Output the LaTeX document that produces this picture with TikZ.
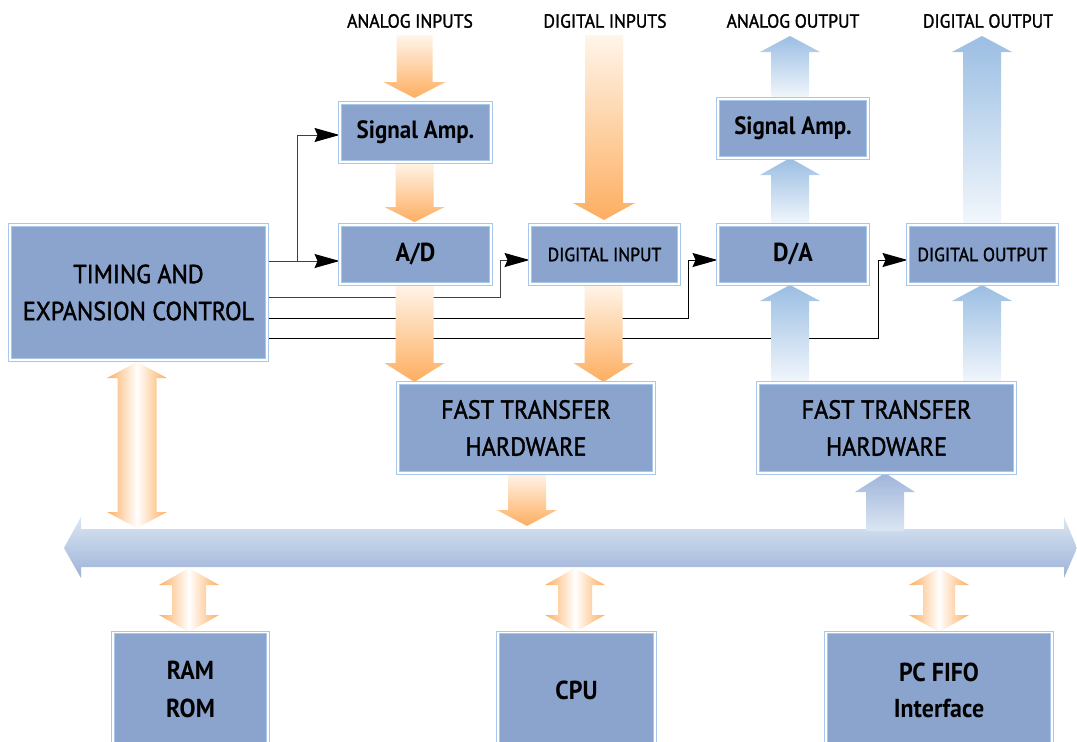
\documentclass[tikz,border=0pt]{standalone}
\usepackage{fontspec}
\setmainfont{PT Sans}[FakeStretch=0.92]
\newfontfamily\medfont{PT Sans}[FakeStretch=0.93, FakeBold=1.5]
\usetikzlibrary{arrows.meta}
\definecolor{boxfill}{RGB}{138,164,206}
\definecolor{boxedge}{RGB}{168,200,235}
\definecolor{orgD}{RGB}{253,174,96}
\definecolor{orgL}{RGB}{255,245,234}
\definecolor{blueA}{RGB}{155,190,227}
\definecolor{blueL}{RGB}{242,247,252}
\definecolor{busT}{RGB}{218,230,242}
\definecolor{busB}{RGB}{157,178,216}
\definecolor{busUp}{RGB}{160,180,218}
\pgfdeclarelayer{bg}
\pgfdeclarelayer{mid}
\pgfsetlayers{bg,mid,main}
% fat single arrow: style, cx, y-start, y-headbase, y-tip, shaft half width, head half width
\newcommand{\fatarrow}[7]{%
  \shade[#1] (#2-#6,#3) -- (#2+#6,#3) -- (#2+#6,#4) -- (#2+#7,#4) -- (#2,#5)
    -- (#2-#7,#4) -- (#2-#6,#4) -- cycle;}
% fat double arrow: style, cx, tip1, base1, base2, tip2, shaft hw, head hw
\newcommand{\fatdouble}[8]{%
  \shade[#1] (#2,#3) -- (#2+#8,#4) -- (#2+#7,#4) -- (#2+#7,#5) -- (#2+#8,#5) -- (#2,#6)
    -- (#2-#8,#5) -- (#2-#7,#5) -- (#2-#7,#4) -- (#2-#8,#4) -- cycle;}
\begin{document}
\begin{tikzpicture}[x=1pt,y=-1pt,
  box/.style={draw=boxedge, double=white, double distance=1.3pt, line width=0.9pt,
    fill=boxfill, inner sep=0pt, align=center, text=black},
  btxt/.style={inner sep=0pt, align=center, text=black},
  ctl/.style={draw=black!75, line width=1pt},
  tipc/.style={-{Stealth[length=25pt,width=14pt,inset=3pt,color=black]}},
  odown/.style={top color=orgL, bottom color=orgD},
  bup/.style={top color=blueA, bottom color=blueL},
  busup/.style={top color=busUp, bottom color=busT},
  obi/.style={left color=orgD, right color=orgD, middle color=white},
  lab/.style={font=\medfont\fontsize{19}{22}\selectfont, inner sep=0pt}]
\begin{pgfonlayer}{bg}
\fill[white] (0,0) rectangle (1077,742);
\end{pgfonlayer}
\useasboundingbox (0,0) rectangle (1077,742);
\clip (0,0) rectangle (1077,742);
% boxes
\node[box, minimum width=257pt, minimum height=135pt, font=\medfont\fontsize{26}{37}\selectfont]
  (tim) at (138.5,292.5) {TIMING AND\\EXPANSION CONTROL};
\node[box, minimum width=151pt, minimum height=59pt, font=\bfseries\fontsize{25}{30}\selectfont]
  (sa1) at (415.5,132.5) {Signal Amp.};
\node[box, minimum width=151pt, minimum height=59pt, font=\bfseries\fontsize{26}{30}\selectfont]
  (ad) at (415.5,254.5) {A/D};
\node[box, minimum width=149pt, minimum height=59pt, font=\medfont\fontsize{19}{22}\selectfont]
  (din) at (604.5,254.5) {DIGITAL INPUT};
\node[box, minimum width=150pt, minimum height=59pt, font=\bfseries\fontsize{26}{30}\selectfont]
  (da) at (793,254.5) {D/A};
\node[box, minimum width=150pt, minimum height=59pt, font=\bfseries\fontsize{25}{30}\selectfont]
  (sa2) at (793,128.5) {Signal Amp.};
\node[box, minimum width=149pt, minimum height=59pt, font=\medfont\fontsize{19}{22}\selectfont]
  (dout) at (982.5,254.5) {DIGITAL OUTPUT};
\node[box, minimum width=256pt, minimum height=90pt, font=\medfont\fontsize{26}{37}\selectfont]
  (ft1) at (526,428) {FAST TRANSFER\\HARDWARE};
\node[box, minimum width=257pt, minimum height=90pt, font=\medfont\fontsize{26}{37}\selectfont]
  (ft2) at (886.5,428) {FAST TRANSFER\\HARDWARE};
\node[box, minimum width=155pt, minimum height=140pt, anchor=north] (ram) at (190.5,632) {};
\node[btxt, font=\bfseries\fontsize{26}{38}\selectfont] (ramt) at (190.5,689) {RAM\\ROM};
\node[box, minimum width=157pt, minimum height=140pt, anchor=north] (cpu) at (576.5,632) {};
\node[btxt, font=\bfseries\fontsize{26}{38}\selectfont] (cput) at (576.5,690) {CPU};
\node[box, minimum width=226pt, minimum height=140pt, anchor=north] (fifo) at (939,632) {};
\node[btxt, font=\bfseries\fontsize{26}{36}\selectfont] (fifot) at (939,690) {PC FIFO\\Interface};
% top labels
\node[lab] (lai) at (410,21) {ANALOG INPUTS};
\node[lab] (ldi) at (605,21) {DIGITAL INPUTS};
\node[lab] (lao) at (793,21) {ANALOG OUTPUT};
\node[lab] (ldo) at (988,21) {DIGITAL OUTPUT};
% control lines
\begin{pgfonlayer}{bg}
\draw[ctl,tipc] (tim.east |- 0,261) -- (ad.west |- 0,261);
\draw[ctl,tipc] (297,261) |- (sa1.west |- 0,135);
\draw[ctl,tipc] (tim.east |- 0,297) -| (500,260) -- (din.west |- 0,260);
\draw[ctl,tipc,draw=black] (tim.east |- 0,318) -| (688,260) -- (da.west |- 0,260);
\draw[ctl,tipc,draw=black] (tim.east |- 0,338) -| (878,260) -- (dout.west |- 0,260);
\end{pgfonlayer}
% fat arrows
\begin{pgfonlayer}{mid}
\shade[top color=busT, bottom color=busB] (64,548) -- (81,517) -- (81,529) -- (1064,529)
  -- (1064,517) -- (1077,548) -- (1064,578) -- (1064,567) -- (81,567) -- (81,578) -- cycle;
\fatarrow{odown}{414.5}{35}{82}{98}{18}{31}
\fatarrow{odown}{414.5}{162}{207}{222}{19}{30}
\fatarrow{odown}{414.5}{284}{363}{382}{19}{30}
\fatarrow{odown}{604}{35}{203}{220}{19}{31}
\fatarrow{odown}{603.5}{284}{363}{382}{19}{30}
\fatarrow{odown}{527}{473}{510}{526}{19}{30}
\fatarrow{bup}{790}{98}{52}{36}{19}{30}
\fatarrow{bup}{790}{225}{175}{158}{19}{30}
\fatarrow{bup}{982}{225}{52}{36}{19}{30}
\fatarrow{bup}{790}{383}{301}{285}{19}{30}
\fatarrow{bup}{982}{383}{301}{285}{19}{30}
\fatarrow{busup}{885}{531}{492}{473}{19}{30}
\fatdouble{obi}{137}{362}{378}{512}{528}{19.5}{30}
\fatdouble{obi}{189}{568}{585}{615}{632}{17}{30}
\fatdouble{obi}{575}{568}{585}{615}{632}{17}{30}
\fatdouble{obi}{939}{568}{585}{615}{632}{16}{30}
\end{pgfonlayer}
\end{tikzpicture}
\end{document}
